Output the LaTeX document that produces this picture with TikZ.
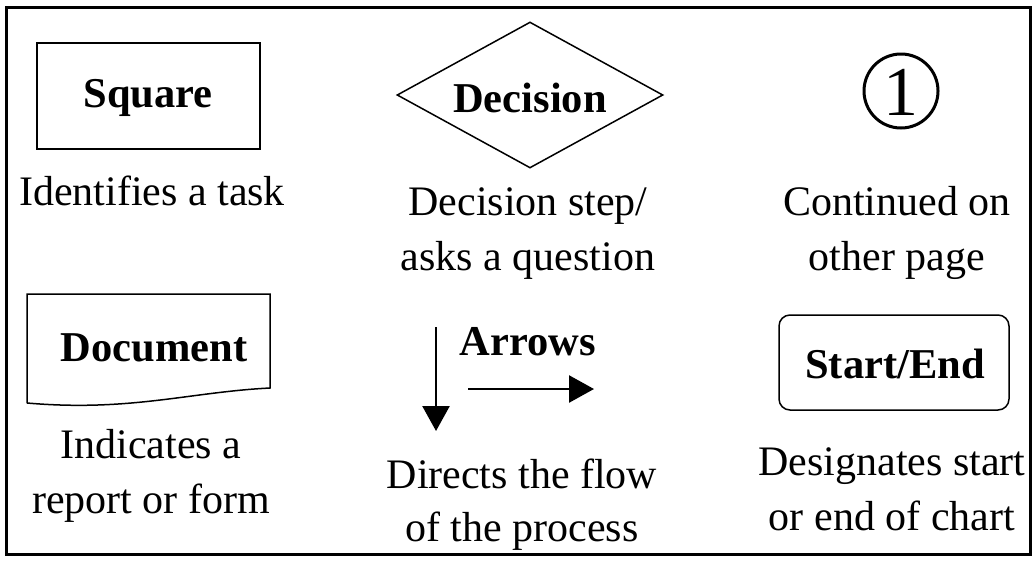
\documentclass[tikz,border=0pt]{standalone}
\usepackage{fontspec}
\setmainfont{Liberation Serif}
\usetikzlibrary{shapes.geometric,arrows.meta}
\begin{document}
\begin{tikzpicture}[x=1pt,y=-1pt,
  shapeline/.style={draw=black,line width=1.5pt},
  lbl/.style={font=\fontsize{42.5}{48}\selectfont\bfseries,inner sep=0pt},
  desc/.style={font=\fontsize{42}{55}\selectfont,align=center,inner sep=0pt},
  flowarrow/.style={line width=2.5pt,-{Triangle[length=25pt,width=27pt]}}]
\useasboundingbox (0,0) rectangle (1035,560);
\fill[white] (0,0) rectangle (1035,560);
\draw[line width=3pt] (6,7) rectangle (1030,554);
% Square
\node[shapeline,minimum width=223pt,minimum height=106pt] (sq) at (148.5,96) {};
\node[lbl] (sqt) at (148,98) {Square};
\node[desc] (sqd) at (152,191) {Identifies a task};
% Decision
\node[shapeline,diamond,minimum width=266pt,minimum height=146pt,inner sep=0pt] (dec) at (530,95) {};
\node[lbl] (dect) at (530,98) {Decision};
\node[desc] (decd) at (528,234) {Decision step/\\asks a question};
% Connector
\node[circle,draw,line width=3pt,minimum size=74pt,inner sep=0pt] (con) at (901,91) {};
\node[font=\fontsize{70}{70}\selectfont,inner sep=0pt] (cont) at (901,92) {1};
\node[desc] (cond) at (897,233) {Continued on\\other page};
% Document
\coordinate (dTL) at (27,294);
\coordinate (dTR) at (270,294);
\coordinate (dBR) at (270,388);
\coordinate (dBL) at (27,403);
\draw[shapeline,line join=miter] (dBL) -- (dTL) -- (dTR) -- (dBR)
   .. controls (190,392) and (130,412) .. (dBL);
\node[lbl] (doct) at (154,348) {Document};
\node[desc] (docd) at (151,476) {Indicates a\\report or form};
% Arrows
\coordinate (va1) at (436,327);
\coordinate (va2) at (436,431);
\coordinate (ha1) at (468,389);
\coordinate (ha2) at (594,389);
\draw[flowarrow] (va1) -- (va2);
\draw[flowarrow] (ha1) -- (ha2);
\node[lbl] (arrt) at (528,342) {Arrows};
\node[desc,font=\fontsize{42}{53}\selectfont] (arrd) at (522,505) {Directs the flow\\of the process};
% Start/End
\node[shapeline,rounded corners=11pt,minimum width=230pt,minimum height=95pt] (se) at (894,362.5) {};
\node[lbl] (set) at (895,364) {Start/End};
\node[desc] (sed) at (892,489) {Designates start\\or end of chart};
\end{tikzpicture}
\end{document}
